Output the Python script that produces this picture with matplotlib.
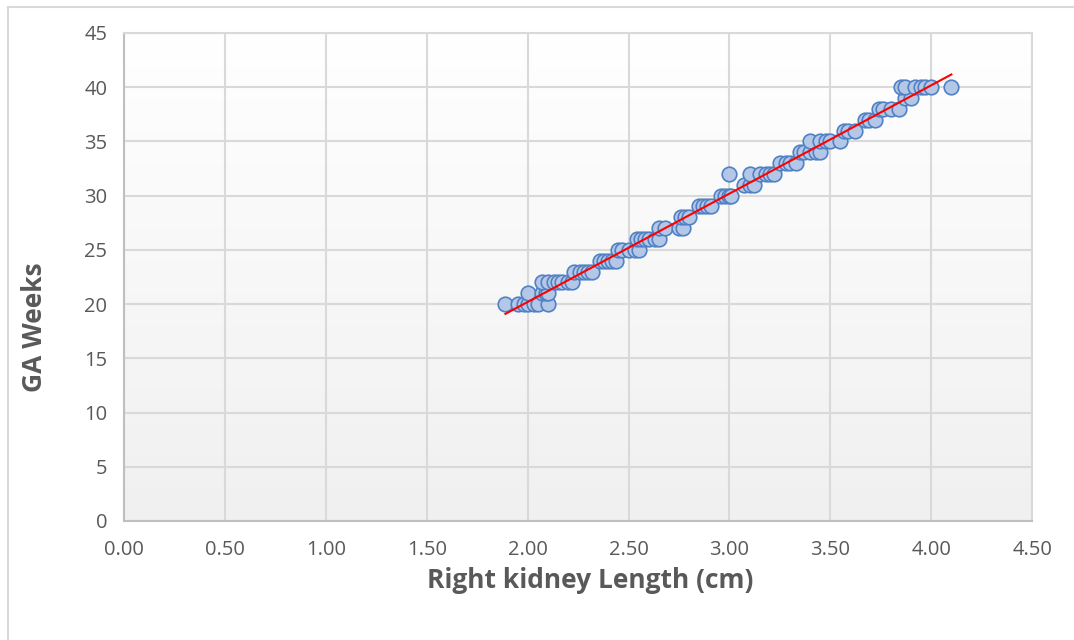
import matplotlib
matplotlib.use("Agg")
import matplotlib.pyplot as plt
import numpy as np
from matplotlib.lines import Line2D

plt.rcParams['font.family'] = ['Open Sans', 'DejaVu Sans']

# right kidney length (cm) per gestational week
weeks = [20, 21, 22, 23, 24, 25, 26, 27, 28, 29, 30,
         31, 32, 33, 34, 35, 36, 37, 38, 39, 40]
lengths = [
    [1.89, 1.95, 1.98, 2.00, 2.03, 2.05, 2.10],
    [2.00, 2.07, 2.09, 2.10],
    [2.07, 2.10, 2.13, 2.15, 2.17, 2.20, 2.22],
    [2.23, 2.26, 2.28, 2.30, 2.32],
    [2.36, 2.38, 2.40, 2.42, 2.44],
    [2.45, 2.47, 2.50, 2.53, 2.55],
    [2.54, 2.56, 2.58, 2.60, 2.63, 2.65],
    [2.65, 2.68, 2.75, 2.77],
    [2.76, 2.78, 2.80],
    [2.85, 2.87, 2.89, 2.91],
    [2.96, 2.98, 3.00, 3.01],
    [3.07, 3.10, 3.12],
    [3.00, 3.10, 3.15, 3.18, 3.20, 3.22],
    [3.25, 3.28, 3.30, 3.33],
    [3.35, 3.37, 3.40, 3.43, 3.45],
    [3.40, 3.45, 3.48, 3.50, 3.55],
    [3.57, 3.59, 3.62],
    [3.67, 3.69, 3.72],
    [3.74, 3.76, 3.80, 3.84],
    [3.87, 3.90],
    [3.85, 3.87, 3.92, 3.95, 3.97, 4.00, 4.10],
]

x = []
y = []
for w, ls in zip(weeks, lengths):
    for v in ls:
        x.append(v)
        y.append(w)
x = np.array(x)
y = np.array(y)

gray = '#595959'
gridColor = '#d9d9d9'

fig = plt.figure(figsize=(10.74, 6.4), dpi=100)
ax = fig.add_axes([0.1155, 0.186, 0.8455, 0.7625])

# soft vertical gradient of the plot area
grad = np.linspace(0, 1, 256).reshape(-1, 1)
ax.imshow(grad, cmap=matplotlib.colors.LinearSegmentedColormap.from_list('g', ['#ffffff', '#f0f0f0']),
          extent=[0, 1, 0, 1], transform=ax.transAxes, aspect='auto', zorder=0)

ax.scatter(x, y, s=110, facecolor='#b4c7e7', edgecolor='#4f81c4', linewidth=1.2, zorder=3)

# linear trendline
k, b = np.polyfit(x, y, 1)
xs = np.array([x.min(), x.max()])
ax.plot(xs, k * xs + b, color='#ff0000', linewidth=1.5, zorder=4)

ax.set_xlim(0, 4.5)
ax.set_ylim(0, 45)
ax.set_xticks(np.arange(0, 4.51, 0.5))
ax.set_xticklabels(['%.2f' % t for t in np.arange(0, 4.51, 0.5)])
ax.set_yticks(np.arange(0, 46, 5))
ax.tick_params(length=0, labelsize=14.5, labelcolor=gray)
ax.tick_params(axis='x', pad=14)
ax.tick_params(axis='y', pad=12)
ax.grid(True, color=gridColor, linewidth=1.5, zorder=1)
ax.set_axisbelow(True)
for s in ax.spines.values():
    s.set_color(gridColor)
    s.set_linewidth(1.5)
ax.spines['left'].set_color('#bfbfbf')
ax.spines['bottom'].set_color('#bfbfbf')

ax.set_xlabel('Right kidney Length (cm)', fontsize=19, fontweight='bold', color=gray)
ax.set_ylabel('GA Weeks', fontsize=19, fontweight='bold', color=gray)
ax.xaxis.set_label_coords(0.513, -0.094)
ax.yaxis.set_label_coords(-0.084, 0.3975)

# outer chart border (top and left only visible)
fig.add_artist(Line2D([8 / 1074, 1], [1 - 7 / 640, 1 - 7 / 640], color=gridColor, linewidth=1.5, transform=fig.transFigure))
fig.add_artist(Line2D([8 / 1074, 8 / 1074], [0, 1 - 7 / 640], color=gridColor, linewidth=1.5, transform=fig.transFigure))

fig.savefig('out.png', dpi=100)
